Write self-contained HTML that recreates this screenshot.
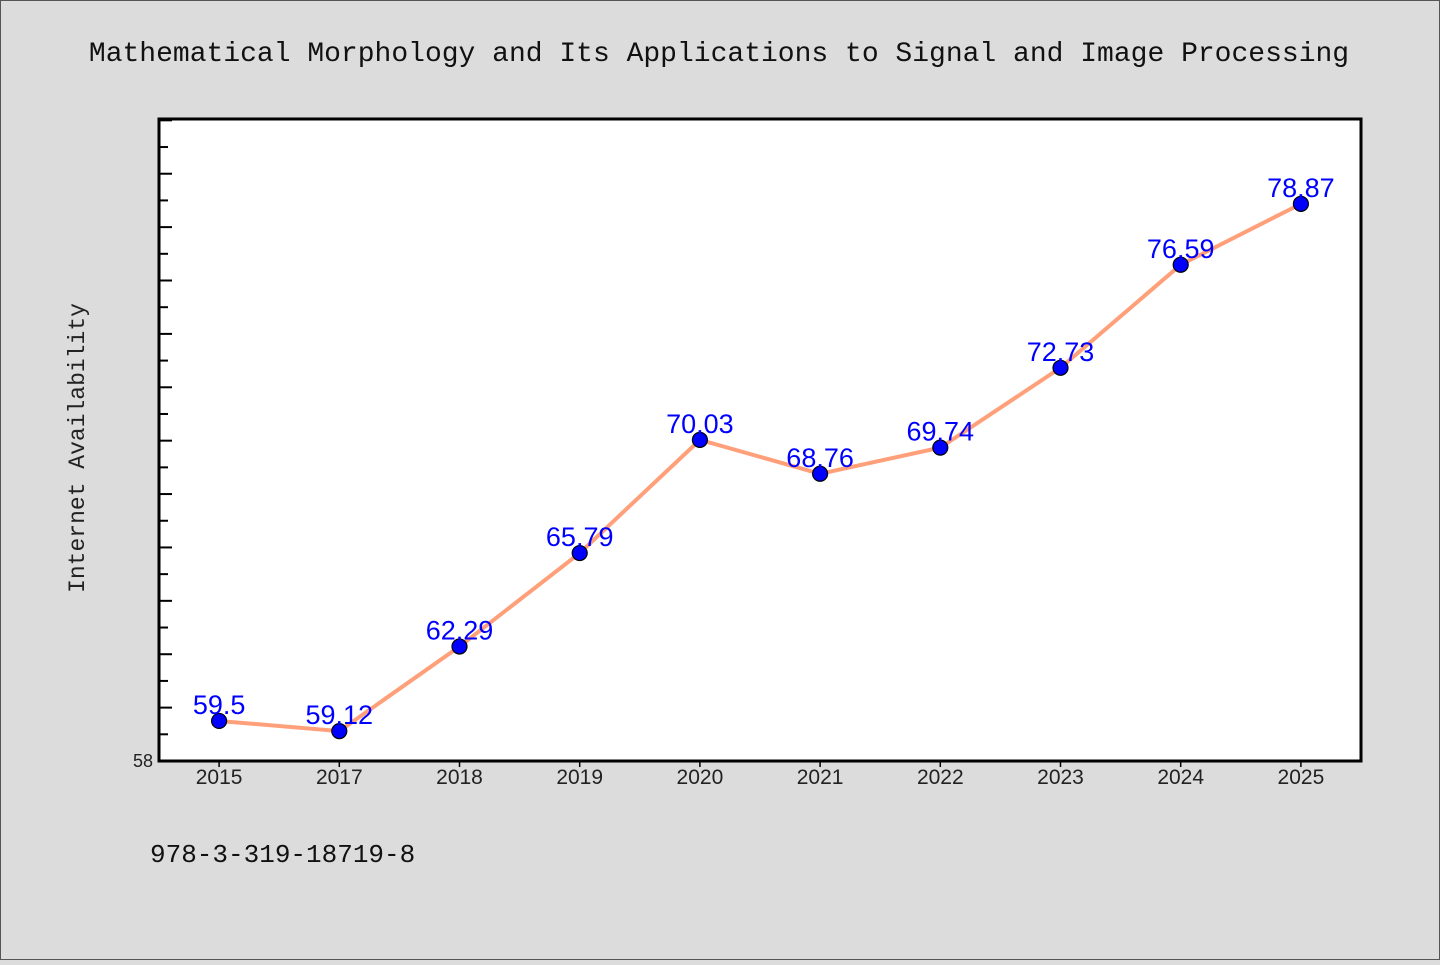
<!DOCTYPE html>
<html><head><meta charset="utf-8"><style>
html,body{margin:0;padding:0;}
body{width:1440px;height:960px;background:#dcdcdc;overflow:hidden;}
</style></head><body>
<svg width="1440" height="960" xmlns="http://www.w3.org/2000/svg">
<rect x="0.5" y="0.5" width="1439" height="959" fill="#dcdcdc" stroke="#555"/>
<text x="719" y="61" text-anchor="middle" font-family="Liberation Mono, monospace" font-size="28" fill="#111">Mathematical Morphology and Its Applications to Signal and Image Processing</text>
<rect x="159" y="119" width="1202" height="642" fill="#fff"/>
<g id="ticks"></g>
<g id="xlabels"></g>
<polyline id="line" fill="none" stroke="#ffa07a" stroke-width="4"/>
<g id="points"></g>
<rect x="159" y="119" width="1202" height="642" fill="none" stroke="#000" stroke-width="3"/>
<text x="153" y="767" text-anchor="end" font-family="Liberation Sans, sans-serif" font-size="18" fill="#222">58</text>
<text transform="translate(84,448) rotate(-90)" text-anchor="middle" font-family="Liberation Mono, monospace" font-size="23" fill="#222">Internet Availability</text>
<text x="150" y="862" font-family="Liberation Mono, monospace" font-size="26" fill="#111">978-3-319-18719-8</text>
</svg>
<script>
const categories=["2015","2017","2018","2019","2020","2021","2022","2023","2024","2025"];
const values=[59.5,59.12,62.29,65.79,70.03,68.76,69.74,72.73,76.59,78.87];
const yMin=58,yMax=82.05;
const L=159,R=1361,T=119,B=761;
const ns="http://www.w3.org/2000/svg";
function xs(i){return L+(R-L)/categories.length*(i+0.5);}
function ys(v){return B-(v-yMin)/(yMax-yMin)*(B-T);}
function mk(tag,attrs,parent){const e=document.createElementNS(ns,tag);for(const k in attrs)e.setAttribute(k,attrs[k]);parent.appendChild(e);return e;}
const tg=document.getElementById('ticks');
for(let v=59;v<=82;v++){
  const y=ys(v);const len=v%2===0?13:9;
  const t=mk('line',{x1:L,x2:L+len,y1:y,y2:y,stroke:'#000','stroke-width':2},tg);
  
  
}
const xl=document.getElementById('xlabels');
categories.forEach((c,i)=>{
  const x=xs(i);
  const t=mk('line',{x1:x,x2:x,y1:B,y2:B+6,stroke:'#000','stroke-width':1.5},xl);
  
  
  const tx=mk('text',{x:x,y:B+23,'text-anchor':'middle','font-family':'Liberation Sans, sans-serif','font-size':21,fill:'#222'},xl);
  tx.textContent=c;
  
  
});
document.getElementById('line').setAttribute('points',values.map((v,i)=>xs(i)+','+ys(v)).join(' '));
const pg=document.getElementById('points');
values.forEach((v,i)=>{
  const c=mk('circle',{cx:xs(i),cy:ys(v),r:7.5,fill:'#0000ff',stroke:'#000','stroke-width':1.2},pg);
  
  
  const t=mk('text',{x:xs(i),y:ys(v)-7,'text-anchor':'middle','font-family':'Liberation Sans, sans-serif','font-size':27,fill:'#0000ff'},pg);
  t.textContent=String(v);
  
  
});
</script>
</body></html>
